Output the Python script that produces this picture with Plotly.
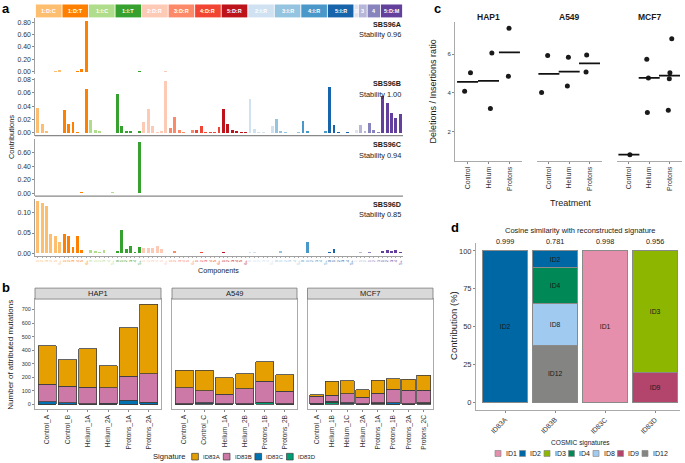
import numpy as np
import plotly.graph_objects as go

W, H = 685, 463
FONT = "Liberation Sans, Arial, sans-serif"
TXT = "#1a1a1a"
TICK = "#333333"


def fx(p):
    return p / W


def fy(p):
    return 1 - p / H


# ---------------------------------------------------------------- data: panel a
groups = ["1:Del:C", "1:Del:T", "1:Ins:C", "1:Ins:T",
          "2:Del:R", "3:Del:R", "4:Del:R", "5:Del:R",
          "2:Ins:R", "3:Ins:R", "4:Ins:R", "5:Ins:R",
          "2:Del:M", "3:Del:M", "4:Del:M", "5:Del:M"]
strip_labels = ["1:D:C", "1:D:T", "1:I:C", "1:I:T", "2:D:R", "3:D:R", "4:D:R", "5:D:R",
                "2:I:R", "3:I:R", "4:I:R", "5:I:R", "2", "3", "4", "5:D:M"]
group_colors = ["#FDBE6F", "#FF8001", "#B0DD8B", "#36A12E",
                "#FDCAB5", "#FC8A6A", "#F14432", "#BC141A",
                "#D0E1F2", "#94C4DF", "#4A98C9", "#1764AB",
                "#E2E2EF", "#B6B6D8", "#8683BD", "#62409B"]
del_sub = ["1", "2", "3", "4", "5", "6+"]
ins_sub = ["0", "1", "2", "3", "4", "5+"]
group_subs = [del_sub, del_sub, ins_sub, ins_sub] + [del_sub] * 4 + [ins_sub] * 4 + \
             [["1"], ["1", "2"], ["1", "2", "3"], ["1", "2", "3", "4", "5+"]]

sbs96a = [0, 0, 0, 0, 0.008, 0.025,
          0, 0, 0, 0.01, 0.035, 0.82,
          0, 0, 0, 0, 0, 0,
          0, 0, 0, 0, 0, 0.012,
          0, 0, 0, 0, 0, 0.004,
          0, 0, 0, 0, 0, 0,
          0, 0, 0, 0, 0, 0,
          0, 0, 0, 0, 0, 0,
          0, 0, 0, 0, 0, 0,
          0, 0, 0, 0, 0, 0,
          0, 0, 0, 0, 0, 0,
          0, 0, 0, 0, 0, 0,
          0, 0, 0, 0, 0, 0, 0, 0, 0, 0, 0]
sbs96b = [0.0366, 0.014, 0.0025, 0, 0, 0,
          0.034, 0.014, 0.017, 0.001, 0, 0.065,
          0.0195, 0.0045, 0.0025, 0, 0, 0,
          0.0576, 0.010, 0.0034, 0.0034, 0, 0.0025,
          0.016, 0.035, 0.011, 0.002, 0.0025, 0.078,
          0.008, 0.024, 0.005, 0.002, 0, 0.0045,
          0.0045, 0.010, 0.001, 0.001, 0.001, 0.009,
          0.035, 0.013, 0.005, 0.0025, 0.001, 0.0015,
          0.050, 0.0063, 0.002, 0.001, 0, 0.010,
          0.021, 0.0034, 0.001, 0, 0, 0.001,
          0.018, 0.0034, 0, 0, 0, 0.0034,
          0.068, 0.0117, 0.001, 0, 0.001, 0,
          0.004, 0.012, 0.003, 0.015, 0.004, 0.002, 0.055, 0.045, 0.030, 0.022, 0.028]
sbs96c = [0, 0, 0, 0, 0, 0,
          0, 0, 0, 0, 0.025, 0,
          0.005, 0, 0, 0, 0.005, 0.018,
          0, 0, 0.008, 0.005, 0.005, 0.76,
          0, 0, 0, 0, 0, 0,
          0, 0, 0, 0, 0, 0,
          0, 0, 0, 0, 0, 0,
          0, 0, 0, 0, 0, 0,
          0, 0, 0, 0, 0, 0.005,
          0, 0, 0, 0, 0, 0,
          0, 0, 0, 0, 0, 0,
          0, 0, 0, 0, 0, 0,
          0, 0, 0, 0, 0, 0, 0, 0, 0, 0, 0]
sbs96d = [0.128, 0.124, 0.117, 0.047, 0.0425, 0.029,
          0.0475, 0.042, 0.015, 0.044, 0.0083, 0,
          0.0075, 0.007, 0.0033, 0.0083, 0, 0,
          0.006, 0.058, 0.011, 0.018, 0.004, 0.0167,
          0.013, 0.013, 0.014, 0.018, 0.011, 0,
          0, 0.006, 0, 0, 0, 0,
          0.002, 0.0033, 0, 0, 0, 0,
          0.0033, 0, 0, 0, 0, 0,
          0.004, 0.004, 0, 0, 0, 0,
          0, 0.006, 0, 0, 0, 0,
          0, 0.0275, 0, 0, 0, 0,
          0.004, 0.011, 0, 0, 0, 0,
          0.002, 0.003, 0.002, 0.003, 0.002, 0.002, 0.006, 0.008, 0.005, 0.008, 0.004]
sbs_names = ["SBS96A", "SBS96B", "SBS96C", "SBS96D"]
sbs_values = [sbs96a, sbs96b, sbs96c, sbs96d]
stability = [0.96, 1.00, 0.94, 0.85]
sbs_ticks = [[0, 0.2, 0.4, 0.6, 0.8], [0, 0.02, 0.04, 0.06, 0.08],
             [0, 0.2, 0.4, 0.6, 0.8], [0, 0.05, 0.10]]

# ---------------------------------------------------------------- data: panel b
signatures_b = ["ID83A", "ID83B", "ID83C", "ID83D"]
colors_b = ["#E69F00", "#CC79A7", "#0072B2", "#009E73"]
cell_lines = ["HAP1", "A549", "MCF7"]
hap1_samples = ["Control_A", "Control_B", "Helium_1A", "Helium_2A", "Protons_1A", "Protons_2A"]
hap1_id83a = [287, 195, 282, 161, 358, 515]
hap1_id83b = [127, 123, 122, 116, 179, 210]
hap1_id83c = [18, 10, 4, 5, 27, 13]
hap1_id83d = [2, 2, 1, 2, 2, 2]
a549_samples = ["Control_A", "Control_C", "Helium_1A", "Helium_2B", "Protons_1B", "Protons_2B"]
a549_id83a = [129, 152, 120, 110, 142, 122]
a549_id83b = [118, 88, 71, 110, 155, 93]
a549_id83c = [3, 9, 3, 3, 3, 3]
a549_id83d = [2, 3, 2, 2, 14, 2]
mcf7_samples = ["Control_A", "Helium_1B", "Helium_1C", "Helium_2A",
                "Protons_1A", "Protons_1B", "Protons_2A", "Protons_2C"]
mcf7_id83a = [12, 102, 96, 57, 93, 79, 81, 110]
mcf7_id83b = [52, 46, 68, 48, 73, 100, 98, 93]
mcf7_id83c = [6, 5, 6, 2, 3, 8, 3, 3]
mcf7_id83d = [2, 16, 4, 1, 7, 2, 2, 9]

# ---------------------------------------------------------------- data: panel c
treatments = ["Control", "Helium", "Protons"]
hap1_treat = ["Control", "Control", "Helium", "Helium", "Protons", "Protons"]
hap1_ratio = [4.09, 5.04, 3.19, 6.05, 4.85, 7.33]
hap1_jitter = [-0.14, 0.14, 0.09, 0.16, -0.05, -0.02]
a549_treat = ["Control", "Control", "Helium", "Helium", "Protons", "Protons"]
a549_ratio = [5.93, 4.02, 5.83, 4.36, 5.95, 5.08]
a549_jitter = [-0.06, -0.36, -0.04, -0.09, -0.14, -0.17]
mcf7_treat = ["Control", "Helium", "Helium", "Helium", "Protons", "Protons", "Protons", "Protons"]
mcf7_ratio = [0.82, 5.73, 4.77, 2.99, 6.79, 5.04, 4.73, 3.11]
mcf7_jitter = [0.05, -0.12, -0.04, -0.09, 0.11, 0.02, -0.01, -0.06]

# ---------------------------------------------------------------- data: panel d
id83_sigs = ["ID83A", "ID83B", "ID83C", "ID83D"]
cosine_sim = [0.999, 0.781, 0.998, 0.956]
cosmic_sigs = ["ID1", "ID2", "ID3", "ID4", "ID8", "ID9", "ID12"]
cosmic_colors = ["#E68FAC", "#0067A5", "#8DB600", "#008856", "#A1CAF1", "#B3446C", "#848482"]
contrib_id1 = [0, 0, 100, 0]
contrib_id2 = [100, 11, 0, 0]
contrib_id3 = [0, 0, 0, 80]
contrib_id4 = [0, 24, 0, 0]
contrib_id8 = [0, 27.5, 0, 0]
contrib_id9 = [0, 0, 0, 20]
contrib_id12 = [0, 37.5, 0, 0]
contribs = [contrib_id1, contrib_id2, contrib_id3, contrib_id4, contrib_id8, contrib_id9, contrib_id12]

# ================================================================ figure
fig = go.Figure()
shapes, annos = [], []
lay = {}


def ann(x, y, text, size, xref="paper", yref="paper", xanchor="center", yanchor="middle",
        color=TXT, angle=0, bold=False):
    annos.append(dict(x=x, y=y, xref=xref, yref=yref, text=f"<b>{text}</b>" if bold else text,
                      showarrow=False, xanchor=xanchor, yanchor=yanchor, textangle=angle,
                      font=dict(size=size, color=color, family=FONT)))


# ---------------- panel a
components, comp_colors, tick_text = [], [], []
starts = []
for g, subs, col in zip(groups, group_subs, group_colors):
    starts.append(len(components))
    for s in subs:
        components.append(f"{g}:{s}")
        comp_colors.append(col)
        tick_text.append(f"<span style='color:{col}'>{s}</span>")

panel_px = [(16.5, 72.5), (76.5, 134.4), (138.1, 195.3), (198, 255.7)]
for k, (name, vals, stab, tv, (top, bot)) in enumerate(
        zip(sbs_names, sbs_values, stability, sbs_ticks, panel_px), start=1):
    fig.add_trace(go.Bar(x=components, y=vals, marker=dict(color=comp_colors, line=dict(width=0)),
                         width=0.65, xaxis="x", yaxis=f"y{k}", showlegend=False, hoverinfo="skip"))
    m = max(vals)
    lay[f"yaxis{k}" if k > 1 else "yaxis"] = dict(
        domain=[fy(bot), fy(top)], anchor="x", range=[-0.05 * m, 1.05 * m],
        tickmode="array", tickvals=tv, tickformat=".2f", ticks="outside", ticklen=2,
        tickwidth=0.7, tickcolor="#555", tickfont=dict(size=6.9, color=TICK, family=FONT),
        showline=True, linecolor="#888", linewidth=0.8, showgrid=False, zeroline=False)
    if k in (2, 3):
        shapes.append(dict(type="line", xref="x domain", yref=f"y{k} domain", x0=0, x1=1, y0=0, y1=0,
                           line=dict(color="#888", width=1.2)))
    ann(fx(403), fy(top + 5.7), name, 7.2, xanchor="right", bold=True)
    ann(fx(403), fy(top + 16.3), f"Stability {stab:.2f}", 7.4, xanchor="right")

lay["xaxis"] = dict(domain=[fx(35), fx(403)], anchor="y4", type="category",
                    categoryorder="array", categoryarray=components, range=[-0.6, len(components) - 0.4],
                    tickmode="array", tickvals=components, ticktext=tick_text, tickangle=-90,
                    tickfont=dict(size=4.2, family=FONT), ticks="outside", ticklen=1.5, tickwidth=0.5,
                    tickcolor="#555", showline=True, linecolor="#888", linewidth=0.8,
                    showgrid=False, zeroline=False)

ends = starts[1:] + [len(components)]
for lab, col, s, e in zip(strip_labels, group_colors, starts, ends):
    shapes.append(dict(type="rect", xref="x", yref="paper", x0=s - 0.5 + 0.1, x1=e - 0.5 - 0.1,
                       y0=fy(15.5), y1=fy(2.5), fillcolor=col, line=dict(width=0), layer="below"))
    ann((s + e - 1) / 2, fy(9), lab, 5.5, xref="x", color="white", bold=True)

ann(fx(11.5), fy(136.5), "Contributions", 7.5, angle=-90, color=TXT)
ann(fx(218), fy(270), "Components", 7.2)

# ---------------- panel b
b_sets = [
    (hap1_samples, [hap1_id83a, hap1_id83b, hap1_id83c, hap1_id83d], (35, 161)),
    (a549_samples, [a549_id83a, a549_id83b, a549_id83c, a549_id83d], (172, 297)),
    (mcf7_samples, [mcf7_id83a, mcf7_id83b, mcf7_id83c, mcf7_id83d], (307.5, 433)),
]
b_max = max(max(np.sum(v, axis=0)) for _, v, _ in b_sets)
for i, (cl, (samples, vals, (l, r))) in enumerate(zip(cell_lines, b_sets)):
    xa, ya = f"x{i + 2}", f"y{i + 5}"
    for sig, col, v in reversed(list(zip(signatures_b, colors_b, vals))):
        fig.add_trace(go.Bar(x=samples, y=v, marker=dict(color=col, line=dict(color="#3d3d3d", width=0.8)),
                             width=0.9, xaxis=xa, yaxis=ya, showlegend=False, hoverinfo="skip"))
    lay[f"xaxis{i + 2}"] = dict(domain=[fx(l), fx(r)], anchor=ya, type="category",
                                categoryorder="array", categoryarray=samples,
                                range=[-0.6, len(samples) - 0.4], tickangle=-90,
                                tickfont=dict(size=6.6, color=TICK, family=FONT), ticks="outside",
                                ticklen=2, tickwidth=0.7, tickcolor="#555", showline=True, mirror=True,
                                linecolor="#aaa", linewidth=1, showgrid=False, zeroline=False)
    yd = dict(domain=[fy(410), fy(299)], anchor=xa, range=[-0.05 * b_max, 1.05 * b_max],
              showline=True, mirror=True, linecolor="#aaa", linewidth=1, showgrid=False, zeroline=False)
    if i == 0:
        yd.update(tickmode="array", tickvals=list(range(0, 800, 100)), ticks="outside", ticklen=2,
                  tickwidth=0.7, tickcolor="#555", tickfont=dict(size=5.5, color=TICK, family=FONT))
    else:
        yd.update(matches="y5", showticklabels=False, ticks="")
    lay[f"yaxis{i + 5}"] = yd
    shapes.append(dict(type="rect", xref=f"{xa} domain", yref="paper", x0=0, x1=1,
                       y0=fy(299), y1=fy(288), fillcolor="#D9D9D9", line=dict(color="#777", width=0.8)))
    ann(0.5, fy(293.7), cl, 7.5, xref=f"{xa} domain")

ann(fx(11), fy(355), "Number of attributed mutations", 8, angle=-90)
ann(fx(188), fy(457.7), "Signature", 7.6, xanchor="right")
for i, (sig, col) in enumerate(zip(signatures_b, colors_b)):
    x0 = 191.7 + i * 31.6
    shapes.append(dict(type="rect", xref="paper", yref="paper", x0=fx(x0), x1=fx(x0 + 6.7),
                       y0=fy(461), y1=fy(454.3), fillcolor=col, line=dict(color="#3d3d3d", width=0.7)))
    ann(fx(x0 + 9.5), fy(457.7), sig, 6, xanchor="left")

# ---------------- panel c
c_sets = [(hap1_treat, hap1_ratio, hap1_jitter, (455, 522)),
          (a549_treat, a549_ratio, a549_jitter, (536.7, 601.7)),
          (mcf7_treat, mcf7_ratio, mcf7_jitter, (616.7, 681.7))]
all_r = hap1_ratio + a549_ratio + mcf7_ratio
rspan = max(all_r) - min(all_r)
c_range = [min(all_r) - 0.05 * rspan, max(all_r) + 0.05 * rspan]
for i, (cl, (tr, ra, jit, (l, r))) in enumerate(zip(cell_lines, c_sets)):
    xa, ya = f"x{i + 5}", f"y{i + 8}"
    xs = [treatments.index(t) + 1 + j for t, j in zip(tr, jit)]
    fig.add_trace(go.Scatter(x=xs, y=ra, mode="markers", xaxis=xa, yaxis=ya, showlegend=False,
                             marker=dict(size=5, color="#1a1a1a"), hoverinfo="skip"))
    meds = [float(np.median([v for t, v in zip(tr, ra) if t == tt])) for tt in treatments]
    fig.add_trace(go.Scatter(x=[1, 2, 3], y=meds, mode="markers", xaxis=xa, yaxis=ya, showlegend=False,
                             marker=dict(symbol="line-ew", size=15, line=dict(width=1.7, color="#111")),
                             hoverinfo="skip"))
    lay[f"xaxis{i + 5}"] = dict(domain=[fx(l), fx(r)], anchor=ya, range=[0.4, 3.6],
                                tickmode="array", tickvals=[1, 2, 3], ticktext=treatments, tickangle=-90,
                                tickfont=dict(size=7, color=TICK, family=FONT), ticks="outside", ticklen=2,
                                tickwidth=0.7, tickcolor="#555", showline=True, linecolor="#aaa",
                                linewidth=1, showgrid=False, zeroline=False)
    yd = dict(domain=[fy(160), fy(20)], anchor=xa, range=c_range, showgrid=False, zeroline=False)
    if i == 0:
        yd.update(tickmode="array", tickvals=[2, 4, 6], ticks="outside", ticklen=2, tickwidth=0.7,
                  tickcolor="#555", tickfont=dict(size=6, color=TICK, family=FONT),
                  showline=True, linecolor="#aaa", linewidth=1)
    else:
        yd.update(matches="y8", showticklabels=False, ticks="", showline=False)
    lay[f"yaxis{i + 8}"] = yd
    ann(0.5, fy(15), cl, 8.5, xref=f"{xa} domain", bold=True)

ann(fx(433), fy(90), "Deletions / Insertions ratio", 9, angle=-90)
ann(fx(570), fy(202), "Treatment", 9)

# ---------------- panel d
for sig, col, vals in reversed(list(zip(cosmic_sigs, cosmic_colors, contribs))):
    fig.add_trace(go.Bar(x=id83_sigs, y=vals, marker=dict(color=col, line=dict(color="#8a8a8a", width=1)),
                         width=0.9, xaxis="x8", yaxis="y11", showlegend=False, hoverinfo="skip",
                         text=[sig if v > 0 else "" for v in vals], textposition="inside",
                         insidetextanchor="middle", textangle=0, constraintext="none",
                         insidetextfont=dict(size=6.8, color="#1a1a1a", family=FONT)))
lay["xaxis8"] = dict(domain=[fx(476), fx(680)], anchor="y11", type="category", categoryorder="array",
                     categoryarray=id83_sigs, range=[-0.584, 3.496], tickangle=-45,
                     tickfont=dict(size=7, color=TICK, family=FONT), ticks="outside", ticklen=2,
                     tickwidth=0.7, tickcolor="#555", showline=True, linecolor="#aaa", linewidth=1,
                     showgrid=False, zeroline=False)
lay["yaxis11"] = dict(domain=[fy(410.6), fy(243)], anchor="x8", range=[-5, 105], tickmode="array",
                      tickvals=[0, 25, 50, 75, 100], ticks="outside", ticklen=2, tickwidth=0.7,
                      tickcolor="#555", tickfont=dict(size=7.5, color=TICK, family=FONT),
                      showline=True, linecolor="#aaa", linewidth=1, showgrid=False, zeroline=False)
for s, c in zip(id83_sigs, cosine_sim):
    ann(s, fy(241.5), f"{c:.3f}", 7.3, xref="x8")
ann(fx(580), fy(230), "Cosine similarity with reconstructed signature", 7.5)
ann(fx(454), fy(326), "Contribution (%)", 9.5, angle=-90)
ann(fx(580), fy(444), "COSMIC signatures", 6.6)
for i, (sig, col) in enumerate(zip(cosmic_sigs, cosmic_colors)):
    x0 = 495 + i * 24.5
    shapes.append(dict(type="rect", xref="paper", yref="paper", x0=fx(x0), x1=fx(x0 + 6),
                       y0=fy(457.4), y1=fy(451.4), fillcolor=col, line=dict(color="#8a8a8a", width=0.7)))
    ann(fx(x0 + 8.5), fy(454.4), sig, 7, xanchor="left")

# ---------------- panel letters
for letter, (x, y) in zip("abcd", [(6, 7), (6, 287), (437, 7), (455, 227)]):
    ann(fx(x), fy(y), letter, 13, bold=True, color="#000")

fig.update_layout(width=W, height=H, margin=dict(l=0, r=0, t=0, b=0), paper_bgcolor="white",
                  plot_bgcolor="white", barmode="stack", showlegend=False, hovermode=False,
                  font=dict(family=FONT, color=TXT), shapes=shapes, annotations=annos, **lay)
fig.write_html("out.html", config={"displayModeBar": False, "staticPlot": True},
               post_script="document.body.style.margin='0';document.body.style.overflow='hidden';")
